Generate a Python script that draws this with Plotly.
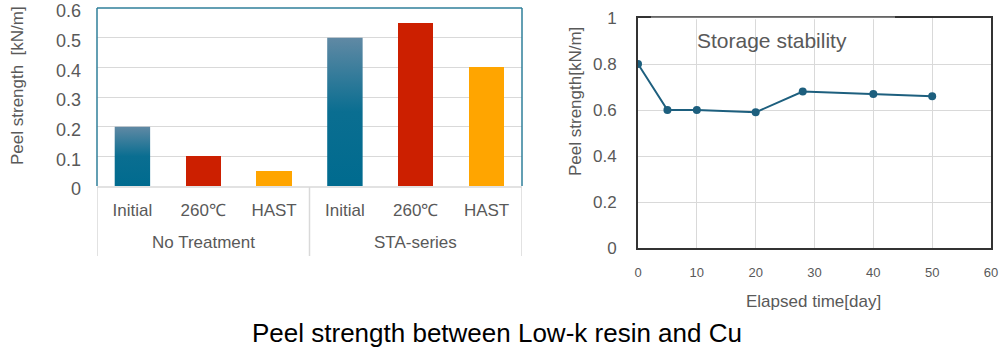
import plotly.graph_objects as go

# ---- data: left bar chart ----
groups = ["No Treatment", "STA-series"]
conditions = ["Initial", "260℃", "HAST"]
no_treatment = [0.2, 0.1, 0.05]
sta_series = [0.5, 0.55, 0.4]

# ---- data: right storage stability ----
days = [0, 5, 10, 20, 28, 40, 50]
peel = [0.8, 0.6, 0.6, 0.59, 0.68, 0.67, 0.66]

FONT = "Liberation Sans, Arial, sans-serif"
GRAY = "#595959"
GRID = "#d9d9d9"
TEAL_BORDER = "#2f7f9a"
RED = "#cc1f00"
ORANGE = "#ffa500"
BLUE_DARK = "#006b8f"
BLUE_LIGHT = "#6089a4"
LINE = "#1d5f7e"

W = 1000
H = 357
def px(x):
    return x / W
def py(y):
    return 1 - y / H

fig = go.Figure()

bar_w = 0.5
values = no_treatment + sta_series
colors = [None, RED, ORANGE] * 2
xs = list(range(len(values)))

for i, v in enumerate(values):
    if i % 3 == 0:
        # gradient bar (Initial)
        x0, x1 = i - bar_w / 2, i + bar_w / 2
        fig.add_trace(go.Scatter(
            x=[x0, x0, x1, x1, x0], y=[0, v, v, 0, 0],
            mode="lines", line=dict(width=0), fill="toself",
            fillgradient=dict(type="vertical", start=0, stop=v,
                              colorscale=[[0, BLUE_DARK], [0.5, "#0a6e91"], [1, BLUE_LIGHT]]),
            hoverinfo="skip", showlegend=False, xaxis="x", yaxis="y"))
    else:
        fig.add_trace(go.Bar(x=[i], y=[v], width=bar_w, marker=dict(color=colors[i], line=dict(width=0)),
                             showlegend=False, xaxis="x", yaxis="y"))

fig.add_trace(go.Scatter(x=days, y=peel, mode="lines+markers",
                         line=dict(color=LINE, width=2), marker=dict(color=LINE, size=8),
                         showlegend=False, xaxis="x2", yaxis="y2"))

fig.update_layout(
    width=W, height=H,
    margin=dict(l=0, r=0, t=0, b=0, autoexpand=False),
    paper_bgcolor="white", plot_bgcolor="white",
    font=dict(family=FONT, color=GRAY),
    xaxis=dict(domain=[px(97), px(522)], range=[-0.5, 5.5],
               tickvals=xs, ticktext=conditions * 2,
               tickfont=dict(size=17, color=GRAY), ticks="", ticklabelstandoff=12,
               ticklabeloverflow="allow",
               showgrid=False, zeroline=False, showline=False),
    yaxis=dict(domain=[py(186), py(8)], range=[0, 0.6], dtick=0.1,
               tickfont=dict(size=18, color=GRAY), ticks="", ticklabelstandoff=15,
               ticklabelshift=3, ticklabeloverflow="allow",
               showgrid=True, gridcolor=GRID, gridwidth=1, zeroline=False, showline=False),
    xaxis2=dict(domain=[px(638), px(991)], range=[0, 60], dtick=10, anchor="y2",
                tickfont=dict(size=13, color=GRAY), ticks="", ticklabelstandoff=11,
                ticklabeloverflow="allow",
                showgrid=True, gridcolor=GRID, zeroline=False,
                showline=True, linecolor="#333333", linewidth=2, mirror=True),
    yaxis2=dict(domain=[py(248), py(18)], range=[0, 1], dtick=0.2, anchor="x2",
                tickfont=dict(size=17, color=GRAY), ticks="", ticklabelstandoff=16,
                ticklabeloverflow="allow",
                showgrid=True, gridcolor=GRID, zeroline=False,
                showline=True, linecolor="#333333", linewidth=2, mirror=True),
    bargap=0,
)

shapes = []
# left plot border (teal) top, left, right
shapes.append(dict(type="line", xref="paper", yref="paper", x0=px(97), x1=px(522), y0=py(8), y1=py(8),
                   line=dict(color=TEAL_BORDER, width=1.5)))
shapes.append(dict(type="line", xref="paper", yref="paper", x0=px(97), x1=px(97), y0=py(8), y1=py(186),
                   line=dict(color=TEAL_BORDER, width=1.5)))
shapes.append(dict(type="line", xref="paper", yref="paper", x0=px(522), x1=px(522), y0=py(8), y1=py(186),
                   line=dict(color=TEAL_BORDER, width=1.5)))
# bottom axis line (gray)
shapes.append(dict(type="line", xref="paper", yref="paper", x0=px(97), x1=px(522), y0=py(187), y1=py(187),
                   line=dict(color=GRID, width=1.5)))
# group dividers
for xd in [-0.5, 2.5, 5.5]:
    shapes.append(dict(type="line", xref="x", yref="paper", x0=xd, x1=xd, y0=py(187), y1=py(256),
                       line=dict(color=GRID, width=1.5)))
# right chart title box covering gridlines
shapes.append(dict(type="rect", xref="paper", yref="paper", x0=px(650), x1=px(895), y0=py(58), y1=py(19),
                   fillcolor="white", line=dict(width=0), layer="below"))
# thinner top border segment behind the title box
shapes.append(dict(type="line", xref="paper", yref="paper", x0=px(651), x1=px(895), y0=py(18), y1=py(18),
                   line=dict(color="white", width=2.5), layer="above"))
shapes.append(dict(type="line", xref="paper", yref="paper", x0=px(651), x1=px(895), y0=py(17.5), y1=py(17.5),
                   line=dict(color="#7f7f7f", width=1), layer="above"))
fig.update_layout(shapes=shapes)

annotations = [
    dict(text=groups[0], x=1, y=py(242), xref="x", yref="paper", showarrow=False,
         font=dict(size=17, color=GRAY), xanchor="center", yanchor="middle"),
    dict(text=groups[1], x=4, y=py(242), xref="x", yref="paper", showarrow=False,
         font=dict(size=17, color=GRAY), xanchor="center", yanchor="middle"),
    dict(text="Peel strength  [kN/m]", x=px(17), y=py(86), xref="paper", yref="paper", showarrow=False,
         textangle=-90, font=dict(size=17, color=GRAY), xanchor="center", yanchor="middle"),
    dict(text="Peel strength[kN/m]", x=px(575), y=py(102), xref="paper", yref="paper", showarrow=False,
         textangle=-90, font=dict(size=17, color=GRAY), xanchor="center", yanchor="middle"),
    dict(text="Elapsed time[day]", x=px(813), y=py(301), xref="paper", yref="paper", showarrow=False,
         font=dict(size=17, color=GRAY), xanchor="center", yanchor="middle"),
    dict(text="Storage stability", x=px(772), y=py(40), xref="paper", yref="paper", showarrow=False,
         font=dict(size=21, color=GRAY), xanchor="center", yanchor="middle"),
    dict(text="Peel strength between Low-k resin and Cu", x=px(497), y=py(333), xref="paper", yref="paper",
         showarrow=False, font=dict(size=26, color="black"), xanchor="center", yanchor="middle"),
]
fig.update_layout(annotations=annotations)

fig.write_html("out.html", config={"displayModeBar": False},
               post_script="document.body.style.margin='0px';")
